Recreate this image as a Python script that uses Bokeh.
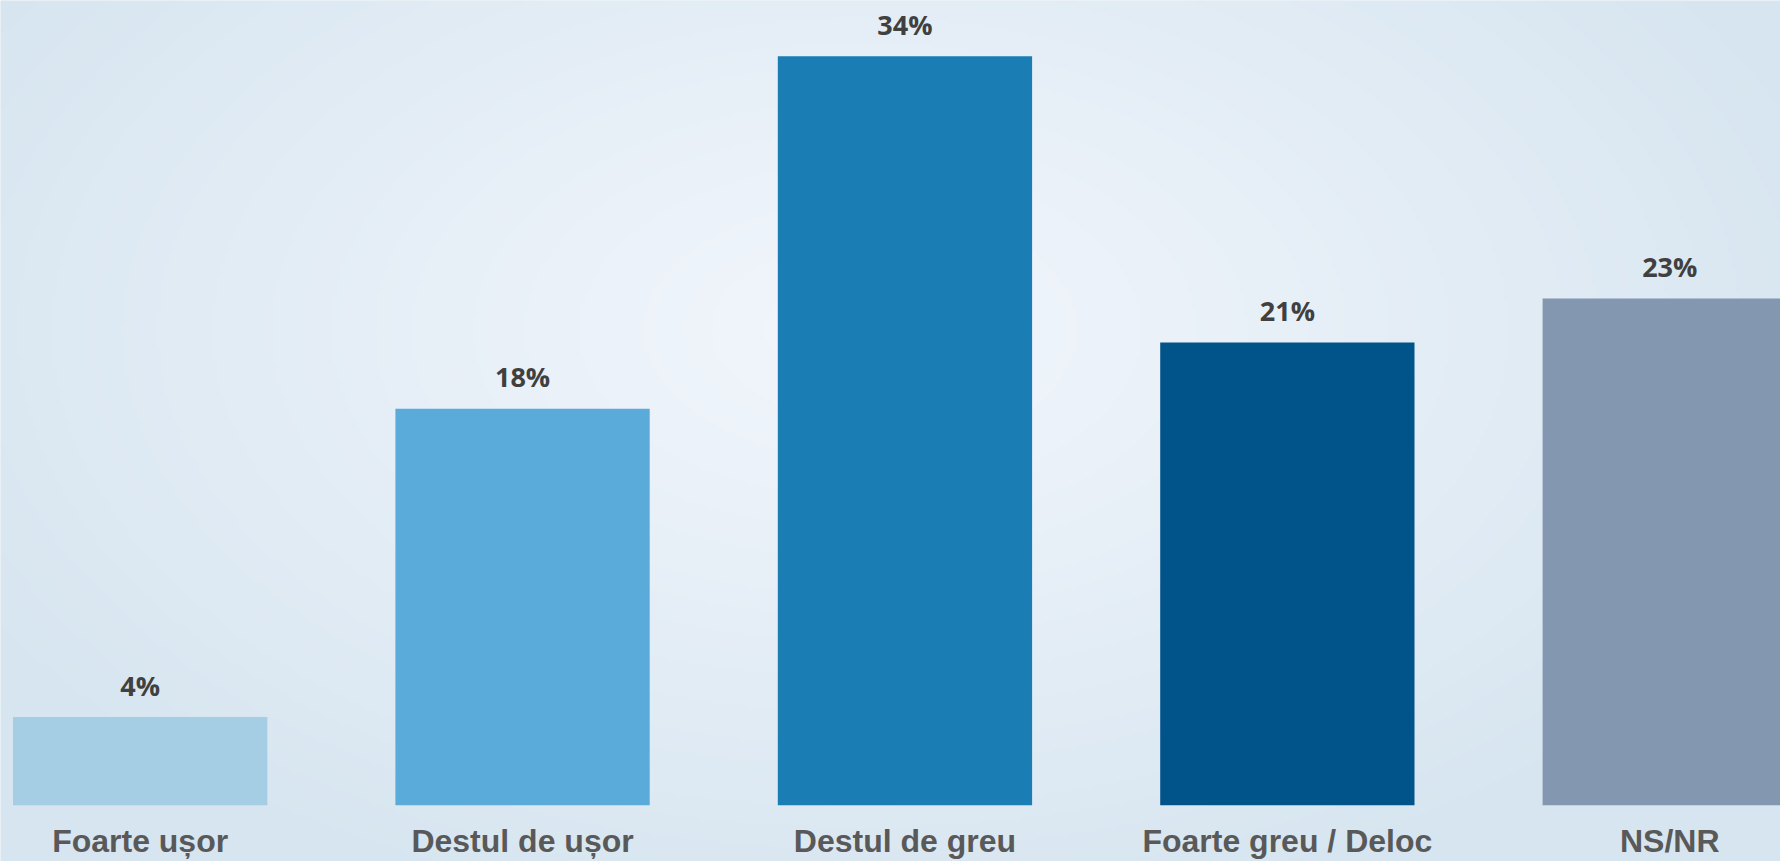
import numpy as np
from bokeh.plotting import figure
from bokeh.models import ColumnDataSource, Range1d
from bokeh.core.properties import value
from bokeh.embed import file_html
from bokeh.resources import INLINE

# ---- data ----
categories = ["Foarte ușor", "Destul de ușor", "Destul de greu", "Foarte greu / Deloc", "NS/NR"]
values = [4, 18, 34, 21, 23]
value_labels = [f"{v}%" for v in values]
bar_colors = ["#a5cde3", "#5aabd9", "#1a7db4", "#00548a", "#8497b0"]

W, H = 1780, 861
positions = list(range(len(categories)))

src = ColumnDataSource(dict(x=positions, top=values, cat=categories,
                            lab=value_labels, color=bar_colors,
                            base=[0] * len(values)))

x_range = Range1d(-0.3652, 4.2896)
y_range = Range1d(-2.556, 36.53)

p = figure(width=W, height=H, x_range=x_range, y_range=y_range,
           output_backend="svg", toolbar_location=None,
           x_axis_location=None, y_axis_location=None,
           min_border=0, outline_line_color=None)
p.grid.visible = False
p.background_fill_color = "#dde9f2"
p.border_fill_color = "#dde9f2"

# ---- soft radial background (decoration) ----
gh, gw = 215, 445
rr, cc = np.mgrid[0:gh, 0:gw]
fx = (cc + 0.5) * W / gw
fy = H - (rr + 0.5) * H / gh
t = np.sqrt(((fx - 860) / 1050.0) ** 2 + ((fy - 330) / 620.0) ** 2)
t = np.clip(t, 0, 1) ** 1.1
c0 = np.array([242, 246, 252], dtype=float)
c1 = np.array([214, 229, 240], dtype=float)
img = np.empty((gh, gw), dtype=np.uint32)
view = img.view(dtype=np.uint8).reshape((gh, gw, 4))
for k in range(3):
    view[:, :, k] = (c0[k] + (c1[k] - c0[k]) * t).astype(np.uint8)
view[:, :, 3] = 255
p.image_rgba(image=[img], x=x_range.start, y=y_range.start,
             dw=x_range.end - x_range.start, dh=y_range.end - y_range.start)

# ---- bars ----
p.vbar(x="x", top="top", bottom="base", width=0.665, fill_color="color",
       line_color=None, source=src)

# ---- value labels ----
p.text(x="x", y="top", text="lab", source=src, y_offset=-32,
       text_align="center", text_baseline="alphabetic",
       text_font=value("Open Sans"), text_font_style="bold",
       text_font_size="27px", text_color="#404040")

# ---- category labels ----
p.text(x="x", y="base", text="cat", source=src, y_offset=36,
       text_align="center", text_baseline="alphabetic",
       text_font=value("Liberation Sans"), text_font_style="bold",
       text_font_size="32px", text_color="#595959")

open("out.html", "w").write(file_html(p, INLINE))
